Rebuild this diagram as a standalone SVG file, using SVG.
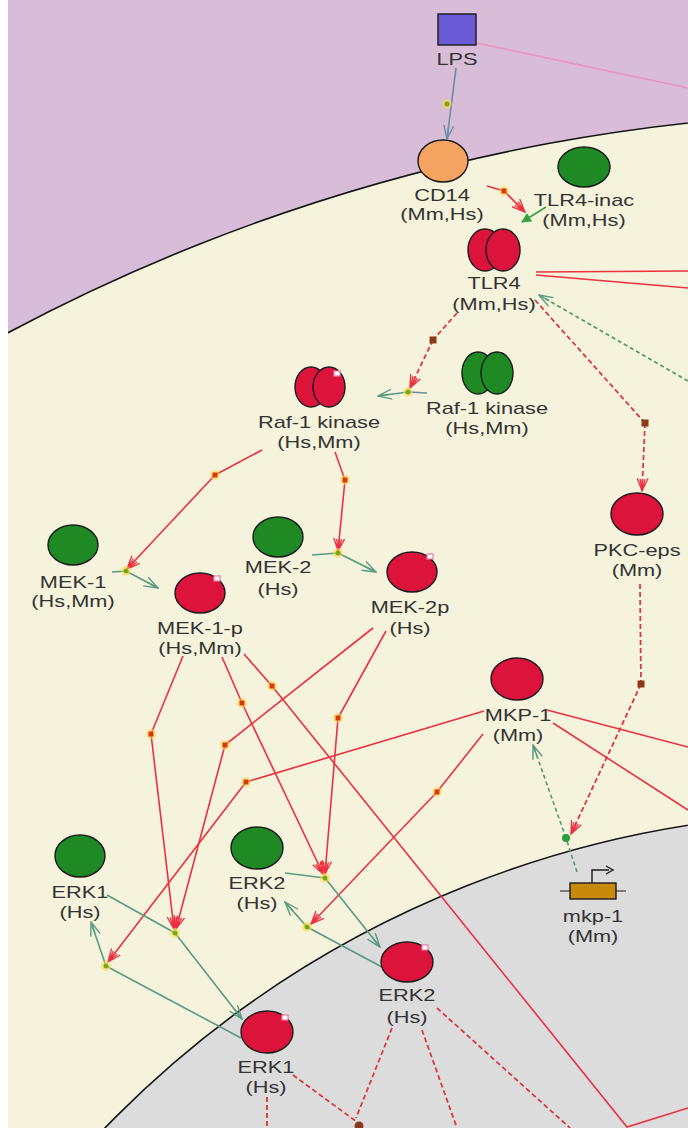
<svg xmlns="http://www.w3.org/2000/svg" width="688" height="1128" viewBox="0 0 688 1128">
<defs>
<style>
.lbl{font-family:"Liberation Sans",Arial,Helvetica,sans-serif;font-size:17px;fill:#333333;text-anchor:middle}
.red{fill:#dc143c;stroke:#1a1a1a;stroke-width:1.4}
.grn{fill:#1f8a24;stroke:#1a1a1a;stroke-width:1.4}
.ph{fill:#fff;stroke:#f07aa0;stroke-width:1.2}
.cat{fill:none;stroke:#ec3040;stroke-width:1.6}
.catd{fill:none;stroke:#d83a40;stroke-width:1.8;stroke-dasharray:5 3}
.tr{fill:none;stroke:#5a9a80;stroke-width:1.6}
.trd{fill:none;stroke:#4f9a6a;stroke-width:1.6;stroke-dasharray:4 3}
.sq{fill:#d83a10}
.sqd{fill:#8a3a1a}
.halo{fill:#ffd84a;opacity:.55}
.dot{fill:#7aa814}
.gdot{fill:#2e9a3e}
</style>
<clipPath id="area"><rect x="8" y="0" width="680" height="1128"/></clipPath>
<marker id="ahR" viewBox="0 0 14 12" refX="13" refY="6" markerWidth="14" markerHeight="12" markerUnits="userSpaceOnUse" orient="auto"><path d="M0,0.5 L13,6 L0,11.5 M1,3.5 L13,6 L1,8.5 M1,6 L13,6" fill="none" stroke="#ec3040" stroke-width="1.3"/></marker>
<marker id="ahG" viewBox="0 0 15 11" refX="14" refY="5.5" markerWidth="15" markerHeight="11" markerUnits="userSpaceOnUse" orient="auto"><path d="M0,0.5 L14,5.5 L0,10.5 M2,5.5 L14,5.5" fill="none" stroke="#5a9a80" stroke-width="1.4"/></marker>
<marker id="ahB" viewBox="0 0 15 11" refX="14" refY="5.5" markerWidth="15" markerHeight="11" markerUnits="userSpaceOnUse" orient="auto"><path d="M0,0.5 L14,5.5 L0,10.5 M2,5.5 L14,5.5" fill="none" stroke="#6a8ea0" stroke-width="1.4"/></marker>
<marker id="ahF" viewBox="0 0 10 10" refX="9" refY="5" markerWidth="10" markerHeight="10" markerUnits="userSpaceOnUse" orient="auto"><path d="M0,0 L10,5 L0,10 Z" fill="#3aa040"/></marker>
</defs>

<!-- compartments -->
<rect x="0" y="0" width="688" height="1128" fill="#ffffff"/>
<g id="compartments" clip-path="url(#area)">
  <rect x="8" y="0" width="680" height="1128" fill="#d8bdd8"/>
  <circle id="cytoplasm" cx="891" cy="1988" r="1876" fill="#f5f3dc" stroke="#141414" stroke-width="1.6"/>
  <circle id="nucleus" cx="848" cy="1847" r="1034" fill="#dcdcdc" stroke="#141414" stroke-width="1.6"/>
</g>

<g id="connectors">
  <!-- LPS binding -->
  <line x1="477" y1="43" x2="688" y2="88" stroke="#ea92c2" stroke-width="1.5"/>
  <line class="tr" x1="456" y1="68" x2="447" y2="139" style="stroke:#6a8ea0" marker-end="url(#ahB)"/>
  <circle class="halo" cx="447" cy="104" r="5"/><circle class="dot" cx="447" cy="104" r="2.5"/>

  <!-- TLR4 activation -->
  <polyline class="cat" points="487,186 504,191"/>
  <line class="cat" x1="504" y1="191" x2="525" y2="212" marker-end="url(#ahR)"/>
  <circle class="halo" cx="504" cy="191" r="5"/><rect class="sq" x="501.5" y="188.5" width="5" height="5"/>
  <line x1="546" y1="207" x2="522" y2="222" stroke="#3aa040" stroke-width="1.5" marker-end="url(#ahF)"/>

  <!-- TLR4 outputs -->
  <line class="cat" x1="536" y1="272" x2="688" y2="271"/>
  <line class="cat" x1="536" y1="275" x2="688" y2="288"/>
  <line class="trd" x1="688" y1="381" x2="539" y2="295" marker-end="url(#ahG)"/>
  <polyline class="catd" points="535,300 645,423"/>
  <line class="catd" x1="645" y1="423" x2="642" y2="491" marker-end="url(#ahR)"/>
  <rect class="sqd" x="641.5" y="419.5" width="7" height="7"/>

  <!-- Raf-1 activation -->
  <polyline class="catd" points="457,313 433,340"/>
  <line class="catd" x1="433" y1="340" x2="410" y2="388" marker-end="url(#ahR)"/>
  <rect class="sqd" x="429.5" y="336.5" width="7" height="7"/>
  <line class="tr" x1="427" y1="393" x2="408" y2="392" style="stroke:#6a8ea0"/>
  <line class="tr" x1="408" y1="392" x2="378" y2="396" marker-end="url(#ahG)"/>
  <circle class="halo" cx="408" cy="392" r="5"/><circle class="dot" cx="408" cy="392" r="2.5"/>

  <!-- MEK-1 phosphorylation -->
  <polyline class="cat" points="262,450 215,475"/>
  <line class="cat" x1="215" y1="475" x2="127" y2="569" marker-end="url(#ahR)"/>
  <circle class="halo" cx="215" cy="475" r="5"/><rect class="sq" x="212.5" y="472.5" width="5" height="5"/>
  <line class="tr" x1="112" y1="572" x2="126" y2="571"/>
  <line class="tr" x1="126" y1="571" x2="158" y2="588" marker-end="url(#ahG)"/>
  <circle class="halo" cx="126" cy="571" r="5"/><circle class="dot" cx="126" cy="571" r="2.5"/>

  <!-- MEK-2 phosphorylation -->
  <polyline class="cat" points="335,452 345,480"/>
  <line class="cat" x1="345" y1="480" x2="338" y2="551" marker-end="url(#ahR)"/>
  <circle class="halo" cx="345" cy="480" r="5"/><rect class="sq" x="342.5" y="477.5" width="5" height="5"/>
  <line class="tr" x1="312" y1="555" x2="338" y2="553"/>
  <line class="tr" x1="338" y1="553" x2="376" y2="572" marker-end="url(#ahG)"/>
  <circle class="halo" cx="338" cy="553" r="5"/><circle class="dot" cx="338" cy="553" r="2.5"/>

  <!-- MEK catalysis on ERK -->
  <polyline class="cat" points="183,656 151,734"/>
  <line class="cat" x1="151" y1="734" x2="174" y2="929" marker-end="url(#ahR)"/>
  <polyline class="cat" points="222,657 242,703"/>
  <line class="cat" x1="242" y1="703" x2="323" y2="874" marker-end="url(#ahR)"/>
  <polyline class="cat" points="244,654 272,686 627,1127 688,1108"/>
  <polyline class="cat" points="373,628 225,745"/>
  <line class="cat" x1="225" y1="745" x2="176" y2="929" marker-end="url(#ahR)"/>
  <polyline class="cat" points="386,631 338,718"/>
  <line class="cat" x1="338" y1="718" x2="325" y2="874" marker-end="url(#ahR)"/>

  <!-- MKP-1 catalysis -->
  <polyline class="cat" points="484,711 246,782"/>
  <line class="cat" x1="246" y1="782" x2="108" y2="962" marker-end="url(#ahR)"/>
  <polyline class="cat" points="483,734 437,792"/>
  <line class="cat" x1="437" y1="792" x2="311" y2="924" marker-end="url(#ahR)"/>
  <line class="cat" x1="547" y1="710" x2="688" y2="747"/>
  <line class="cat" x1="553" y1="723" x2="688" y2="810"/>

  <g id="anchors">
    <circle class="halo" cx="151" cy="734" r="5"/><rect class="sq" x="148.5" y="731.5" width="5" height="5"/>
    <circle class="halo" cx="242" cy="703" r="5"/><rect class="sq" x="239.5" y="700.5" width="5" height="5"/>
    <circle class="halo" cx="272" cy="686" r="5"/><rect class="sq" x="269.5" y="683.5" width="5" height="5"/>
    <circle class="halo" cx="225" cy="745" r="5"/><rect class="sq" x="222.5" y="742.5" width="5" height="5"/>
    <circle class="halo" cx="338" cy="718" r="5"/><rect class="sq" x="335.5" y="715.5" width="5" height="5"/>
    <circle class="halo" cx="246" cy="782" r="5"/><rect class="sq" x="243.5" y="779.5" width="5" height="5"/>
    <circle class="halo" cx="437" cy="792" r="5"/><rect class="sq" x="434.5" y="789.5" width="5" height="5"/>
  </g>

  <!-- mkp-1 expression -->
  <polyline class="catd" points="640,584 641,684"/>
  <line class="catd" x1="641" y1="684" x2="571" y2="834" marker-end="url(#ahR)"/>
  <rect class="sqd" x="637.5" y="680.5" width="7" height="7"/>
  <line class="trd" x1="577" y1="872" x2="566" y2="838"/>
  <line class="trd" x1="566" y1="838" x2="533" y2="745" marker-end="url(#ahG)"/>
  <circle class="gdot" cx="566" cy="838" r="4"/>

  <!-- ERK1 / ERK2 state transitions -->
  <line class="tr" x1="107" y1="895" x2="175" y2="933"/>
  <line class="tr" x1="175" y1="933" x2="242" y2="1019" marker-end="url(#ahG)"/>
  <line class="tr" x1="241" y1="1038" x2="106" y2="966"/>
  <line class="tr" x1="106" y1="966" x2="91" y2="922" marker-end="url(#ahG)"/>
  <line class="tr" x1="285" y1="873" x2="325" y2="878"/>
  <line class="tr" x1="325" y1="878" x2="380" y2="947" marker-end="url(#ahG)"/>
  <line class="tr" x1="382" y1="967" x2="307" y2="927"/>
  <line class="tr" x1="307" y1="927" x2="285" y2="902" marker-end="url(#ahG)"/>
  <circle class="halo" cx="175" cy="933" r="5"/><circle class="dot" cx="175" cy="933" r="2.5"/>
  <circle class="halo" cx="106" cy="966" r="5"/><circle class="dot" cx="106" cy="966" r="2.5"/>
  <circle class="halo" cx="325" cy="878" r="5"/><circle class="dot" cx="325" cy="878" r="2.5"/>
  <circle class="halo" cx="307" cy="927" r="5"/><circle class="dot" cx="307" cy="927" r="2.5"/>

  <!-- nuclear ERK outputs -->
  <line class="catd" x1="293" y1="1075" x2="357" y2="1122"/>
  <line class="catd" x1="392" y1="1028" x2="356" y2="1118"/>
  <line class="catd" x1="267" y1="1097" x2="267" y2="1128"/>
  <line class="catd" x1="422" y1="1030" x2="457" y2="1128"/>
  <line class="catd" x1="437" y1="1008" x2="570" y2="1128"/>
  <circle class="sqd" cx="359" cy="1126" r="4.5"/>
</g>

<g id="LPS">
  <rect x="438" y="14" width="38" height="31" fill="#6a5ad6" stroke="#1a1a1a" stroke-width="1.4"/>
  <text class="lbl" transform="translate(457 65) scale(1.28 1)">LPS</text>
</g>
<g id="CD14">
  <ellipse cx="443" cy="161" rx="25" ry="21" fill="#f4a460" stroke="#1a1a1a" stroke-width="1.4"/>
  <text class="lbl" transform="translate(442 201) scale(1.28 1)"><tspan x="0" y="0">CD14</tspan><tspan x="0" y="19">(Mm,Hs)</tspan></text>
</g>
<g id="TLR4-inac">
  <ellipse class="grn" cx="584" cy="167" rx="26" ry="20"/>
  <text class="lbl" transform="translate(584 206) scale(1.28 1)"><tspan x="0" y="0">TLR4-inac</tspan><tspan x="0" y="20">(Mm,Hs)</tspan></text>
</g>
<g id="TLR4">
  <ellipse class="red" cx="485" cy="250" rx="17" ry="21"/>
  <ellipse class="red" cx="503" cy="250" rx="17" ry="21"/>
  <text class="lbl" transform="translate(494 289) scale(1.28 1)"><tspan x="0" y="0">TLR4</tspan><tspan x="0" y="21">(Mm,Hs)</tspan></text>
</g>
<g id="Raf-1-p">
  <ellipse class="red" cx="311" cy="387" rx="16" ry="20"/>
  <ellipse class="red" cx="329" cy="387" rx="16" ry="20"/>
  <rect class="ph" x="334" y="371" width="6" height="5"/>
  <text class="lbl" transform="translate(319 428) scale(1.28 1)"><tspan x="0" y="0">Raf-1 kinase</tspan><tspan x="0" y="20">(Hs,Mm)</tspan></text>
</g>
<g id="Raf-1">
  <ellipse class="grn" cx="478" cy="373" rx="16" ry="21"/>
  <ellipse class="grn" cx="497" cy="373" rx="16" ry="21"/>
  <text class="lbl" transform="translate(487 414) scale(1.28 1)"><tspan x="0" y="0">Raf-1 kinase</tspan><tspan x="0" y="20">(Hs,Mm)</tspan></text>
</g>
<g id="MEK-1">
  <ellipse class="grn" cx="73" cy="545" rx="25" ry="20"/>
  <text class="lbl" transform="translate(73 588) scale(1.28 1)"><tspan x="0" y="0">MEK-1</tspan><tspan x="0" y="19">(Hs,Mm)</tspan></text>
</g>
<g id="MEK-1-p">
  <ellipse class="red" cx="200" cy="593" rx="25" ry="20"/>
  <rect class="ph" x="214" y="576" width="6" height="5"/>
  <text class="lbl" transform="translate(200 634) scale(1.28 1)"><tspan x="0" y="0">MEK-1-p</tspan><tspan x="0" y="20">(Hs,Mm)</tspan></text>
</g>
<g id="MEK-2">
  <ellipse class="grn" cx="278" cy="537" rx="25" ry="20"/>
  <text class="lbl" transform="translate(278 573) scale(1.28 1)"><tspan x="0" y="0">MEK-2</tspan><tspan x="0" y="22">(Hs)</tspan></text>
</g>
<g id="MEK-2p">
  <ellipse class="red" cx="412" cy="572" rx="25" ry="20"/>
  <rect class="ph" x="427" y="554" width="6" height="5"/>
  <text class="lbl" transform="translate(410 613) scale(1.28 1)"><tspan x="0" y="0">MEK-2p</tspan><tspan x="0" y="21">(Hs)</tspan></text>
</g>
<g id="PKC-eps">
  <ellipse class="red" cx="637" cy="514" rx="26" ry="21"/>
  <text class="lbl" transform="translate(637 556) scale(1.28 1)"><tspan x="0" y="0">PKC-eps</tspan><tspan x="0" y="20">(Mm)</tspan></text>
</g>
<g id="MKP-1">
  <ellipse class="red" cx="517" cy="679" rx="26" ry="21"/>
  <text class="lbl" transform="translate(518 721) scale(1.28 1)"><tspan x="0" y="0">MKP-1</tspan><tspan x="0" y="20">(Mm)</tspan></text>
</g>
<g id="mkp-1-gene">
  <line x1="560" y1="891" x2="626" y2="891" stroke="#1a1a1a" stroke-width="1.2"/>
  <rect x="570" y="883" width="46" height="16" fill="#c88a0c" stroke="#1a1a1a" stroke-width="1.4"/>
  <path d="M592,883 V870 H609" fill="none" stroke="#1a1a1a" stroke-width="1.4"/>
  <path d="M606,866 L613,870 L606,874" fill="none" stroke="#1a1a1a" stroke-width="1.4"/>
  <text class="lbl" transform="translate(593 922) scale(1.28 1)"><tspan x="0" y="0">mkp-1</tspan><tspan x="0" y="20">(Mm)</tspan></text>
</g>
<g id="ERK1">
  <ellipse class="grn" cx="80" cy="856" rx="25" ry="21"/>
  <text class="lbl" transform="translate(80 898) scale(1.28 1)"><tspan x="0" y="0">ERK1</tspan><tspan x="0" y="20">(Hs)</tspan></text>
</g>
<g id="ERK2">
  <ellipse class="grn" cx="257" cy="848" rx="26" ry="21"/>
  <text class="lbl" transform="translate(257 889) scale(1.28 1)"><tspan x="0" y="0">ERK2</tspan><tspan x="0" y="20">(Hs)</tspan></text>
</g>
<g id="ERK2-p">
  <ellipse class="red" cx="407" cy="962" rx="26" ry="20"/>
  <rect class="ph" x="422" y="945" width="6" height="5"/>
  <text class="lbl" transform="translate(407 1001) scale(1.28 1)"><tspan x="0" y="0">ERK2</tspan><tspan x="0" y="22">(Hs)</tspan></text>
</g>
<g id="ERK1-p">
  <ellipse class="red" cx="267" cy="1032" rx="26" ry="21"/>
  <rect class="ph" x="282" y="1015" width="6" height="5"/>
  <text class="lbl" transform="translate(266 1073) scale(1.28 1)"><tspan x="0" y="0">ERK1</tspan><tspan x="0" y="20">(Hs)</tspan></text>
</g>
</svg>
